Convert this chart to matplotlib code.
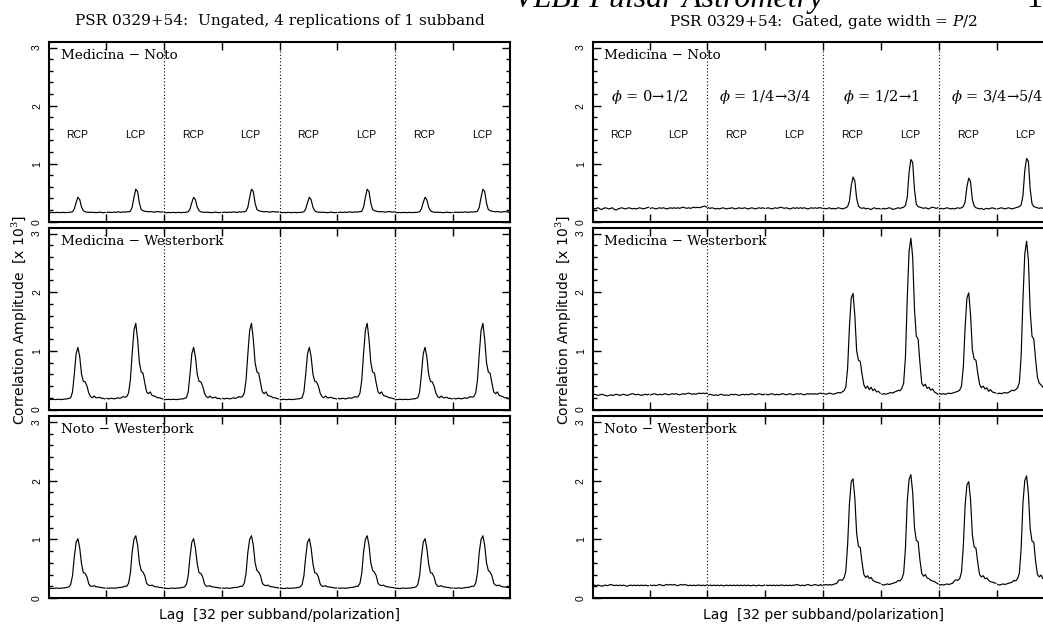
import numpy as np
import matplotlib
matplotlib.use("Agg")
import matplotlib.pyplot as plt
from matplotlib.ticker import MultipleLocator, FixedLocator

plt.rcParams["mathtext.fontset"] = "dejavuserif"

# ---------------- data ----------------
SEG = 32                       # lags per subband/polarization
seg_labels = ["RCP", "LCP"] * 4
baselines = ["Medicina − Noto", "Medicina − Westerbork", "Noto − Westerbork"]
phase_labels = [r"$\phi$ = 0→1/2", r"$\phi$ = 1/4→3/4", r"$\phi$ = 1/2→1", r"$\phi$ = 3/4→5/4"]
yticks_major = [0, 1, 2, 3]

# Ungated: one subband (RCP, LCP), replicated 4 times  [x 10^3]
ug_mn_rcp = [0.16,0.155,0.16,0.155,0.16,0.16,0.155,0.16,0.16,0.155,0.16,0.16,0.165,0.17,0.22,0.33,
             0.42,0.38,0.25,0.19,0.17,0.165,0.16,0.165,0.16,0.16,0.155,0.16,0.165,0.16,0.155,0.16]
ug_mn_lcp = [0.16,0.165,0.16,0.16,0.165,0.16,0.17,0.165,0.16,0.17,0.165,0.17,0.17,0.18,0.25,0.42,
             0.56,0.52,0.32,0.21,0.19,0.18,0.175,0.17,0.175,0.17,0.165,0.17,0.175,0.17,0.165,0.17]
ug_mw_rcp = [0.17,0.17,0.175,0.17,0.17,0.175,0.17,0.17,0.175,0.18,0.18,0.19,0.20,0.30,0.60,0.95,
             1.06,0.90,0.60,0.48,0.47,0.40,0.28,0.22,0.20,0.23,0.20,0.20,0.21,0.19,0.19,0.18]
ug_mw_lcp = [0.19,0.18,0.19,0.19,0.18,0.19,0.20,0.19,0.20,0.22,0.21,0.22,0.28,0.50,0.95,1.35,
             1.47,1.20,0.80,0.64,0.62,0.45,0.30,0.27,0.30,0.24,0.23,0.22,0.20,0.20,0.19,0.18]
ug_nw_rcp = [0.165,0.165,0.16,0.165,0.17,0.165,0.165,0.17,0.17,0.175,0.18,0.19,0.23,0.38,0.70,0.95,
             1.01,0.85,0.58,0.43,0.42,0.36,0.24,0.20,0.20,0.21,0.19,0.19,0.18,0.18,0.17,0.17]
ug_nw_lcp = [0.17,0.165,0.17,0.17,0.165,0.17,0.175,0.18,0.18,0.19,0.20,0.20,0.25,0.42,0.78,1.00,
             1.06,0.90,0.60,0.47,0.44,0.38,0.25,0.22,0.21,0.22,0.20,0.19,0.19,0.18,0.18,0.17]

# Gated (gate width P/2): 8 segments per baseline  [x 10^3]
g_mn = [
 [0.23,0.22,0.23,0.24,0.22,0.21,0.23,0.24,0.23,0.22,0.23,0.24,0.21,0.20,0.22,0.23,0.24,0.23,0.22,0.23,0.24,0.23,0.22,0.23,0.22,0.23,0.24,0.23,0.22,0.23,0.24,0.25],
 [0.23,0.24,0.23,0.22,0.23,0.24,0.23,0.24,0.23,0.22,0.23,0.24,0.23,0.24,0.23,0.24,0.23,0.24,0.25,0.24,0.23,0.24,0.23,0.24,0.25,0.24,0.25,0.24,0.25,0.26,0.27,0.25],
 [0.24,0.23,0.24,0.23,0.22,0.23,0.22,0.23,0.24,0.23,0.22,0.23,0.23,0.24,0.23,0.22,0.23,0.24,0.23,0.23,0.24,0.23,0.22,0.23,0.24,0.23,0.22,0.23,0.24,0.23,0.24,0.23],
 [0.23,0.24,0.23,0.22,0.23,0.24,0.23,0.24,0.25,0.24,0.23,0.24,0.23,0.22,0.23,0.24,0.23,0.24,0.23,0.24,0.23,0.24,0.23,0.22,0.23,0.24,0.23,0.24,0.23,0.24,0.24,0.23],
 [0.23,0.22,0.23,0.24,0.22,0.23,0.22,0.23,0.24,0.23,0.22,0.23,0.24,0.26,0.35,0.62,0.77,0.70,0.40,0.27,0.24,0.23,0.24,0.22,0.23,0.22,0.21,0.23,0.24,0.22,0.23,0.22],
 [0.22,0.23,0.22,0.23,0.24,0.23,0.21,0.22,0.23,0.24,0.23,0.24,0.25,0.28,0.42,0.85,1.07,1.02,0.55,0.30,0.26,0.25,0.24,0.23,0.24,0.23,0.22,0.24,0.25,0.24,0.23,0.24],
 [0.22,0.23,0.22,0.23,0.24,0.23,0.22,0.23,0.22,0.23,0.24,0.23,0.24,0.26,0.34,0.60,0.75,0.69,0.38,0.27,0.24,0.23,0.22,0.23,0.21,0.22,0.23,0.22,0.23,0.24,0.23,0.22],
 [0.22,0.23,0.24,0.23,0.22,0.23,0.24,0.23,0.22,0.23,0.24,0.25,0.26,0.29,0.45,0.88,1.09,1.04,0.56,0.31,0.26,0.25,0.24,0.23,0.24,0.23,0.24,0.23,0.24,0.23,0.24,0.23],
]
g_mw = [
 [0.25,0.26,0.25,0.24,0.25,0.26,0.25,0.24,0.23,0.24,0.25,0.24,0.25,0.26,0.25,0.24,0.25,0.26,0.25,0.24,0.25,0.26,0.27,0.26,0.25,0.26,0.25,0.24,0.25,0.26,0.25,0.26],
 [0.25,0.26,0.27,0.26,0.25,0.26,0.25,0.26,0.27,0.26,0.25,0.26,0.27,0.26,0.27,0.26,0.25,0.26,0.27,0.26,0.27,0.28,0.27,0.26,0.27,0.26,0.27,0.28,0.27,0.28,0.27,0.28],
 [0.25,0.26,0.25,0.24,0.25,0.24,0.25,0.26,0.25,0.24,0.25,0.24,0.25,0.26,0.25,0.26,0.25,0.24,0.25,0.26,0.25,0.26,0.25,0.26,0.27,0.26,0.25,0.26,0.27,0.26,0.25,0.26],
 [0.26,0.25,0.26,0.27,0.26,0.25,0.26,0.25,0.26,0.27,0.26,0.25,0.26,0.27,0.26,0.25,0.26,0.27,0.26,0.27,0.26,0.25,0.26,0.27,0.26,0.27,0.26,0.27,0.26,0.27,0.28,0.27],
 [0.27,0.26,0.27,0.28,0.27,0.26,0.27,0.28,0.29,0.28,0.30,0.32,0.38,0.70,1.40,1.90,1.98,1.60,1.00,0.84,0.82,0.60,0.42,0.36,0.40,0.34,0.38,0.32,0.35,0.30,0.31,0.28],
 [0.26,0.27,0.26,0.27,0.28,0.29,0.28,0.30,0.31,0.33,0.32,0.36,0.45,0.90,1.90,2.70,2.92,2.60,1.70,1.25,1.20,0.80,0.45,0.40,0.43,0.36,0.38,0.33,0.35,0.30,0.28,0.26],
 [0.27,0.26,0.27,0.26,0.27,0.28,0.27,0.28,0.29,0.30,0.31,0.33,0.40,0.72,1.40,1.90,1.99,1.62,1.02,0.86,0.84,0.62,0.43,0.37,0.40,0.35,0.37,0.31,0.34,0.30,0.29,0.28],
 [0.27,0.28,0.27,0.28,0.29,0.28,0.29,0.31,0.33,0.32,0.34,0.37,0.46,0.92,1.88,2.65,2.87,2.55,1.68,1.25,1.20,0.85,0.55,0.45,0.42,0.38,0.36,0.34,0.33,0.31,0.30,0.29],
]
g_nw = [
 [0.21,0.22,0.21,0.22,0.21,0.20,0.21,0.22,0.21,0.22,0.23,0.22,0.21,0.22,0.21,0.22,0.21,0.22,0.21,0.20,0.21,0.22,0.21,0.22,0.21,0.22,0.21,0.22,0.21,0.22,0.21,0.21],
 [0.22,0.21,0.22,0.21,0.22,0.23,0.22,0.21,0.22,0.23,0.22,0.23,0.22,0.23,0.22,0.21,0.22,0.23,0.22,0.23,0.22,0.21,0.22,0.21,0.22,0.21,0.22,0.22,0.21,0.22,0.21,0.22],
 [0.21,0.22,0.21,0.22,0.21,0.22,0.21,0.22,0.21,0.21,0.22,0.21,0.22,0.21,0.22,0.21,0.22,0.21,0.22,0.21,0.22,0.21,0.22,0.21,0.21,0.22,0.21,0.21,0.22,0.21,0.21,0.22],
 [0.22,0.21,0.22,0.21,0.22,0.21,0.22,0.21,0.22,0.22,0.21,0.22,0.21,0.22,0.21,0.22,0.22,0.23,0.22,0.21,0.22,0.21,0.22,0.23,0.22,0.21,0.22,0.23,0.22,0.21,0.23,0.21],
 [0.22,0.23,0.22,0.23,0.22,0.23,0.24,0.25,0.30,0.31,0.30,0.34,0.45,0.90,1.60,1.98,2.03,1.70,1.10,0.88,0.86,0.60,0.40,0.35,0.38,0.33,0.35,0.30,0.28,0.27,0.26,0.25],
 [0.23,0.22,0.23,0.24,0.23,0.24,0.25,0.26,0.27,0.30,0.29,0.33,0.42,0.85,1.65,2.02,2.10,1.80,1.20,0.98,0.96,0.65,0.42,0.37,0.40,0.34,0.33,0.30,0.29,0.28,0.26,0.24],
 [0.22,0.23,0.22,0.23,0.24,0.23,0.24,0.25,0.29,0.31,0.30,0.33,0.44,0.88,1.58,1.93,1.98,1.68,1.08,0.87,0.85,0.60,0.40,0.36,0.38,0.33,0.34,0.30,0.28,0.27,0.26,0.25],
 [0.23,0.22,0.23,0.24,0.23,0.24,0.25,0.26,0.27,0.30,0.29,0.33,0.42,0.85,1.62,2.00,2.08,1.78,1.18,0.97,0.95,0.62,0.40,0.36,0.39,0.33,0.32,0.30,0.29,0.28,0.26,0.24],
]

ungated = [[ug_mn_rcp, ug_mn_lcp], [ug_mw_rcp, ug_mw_lcp], [ug_nw_rcp, ug_nw_lcp]]
gated = [g_mn, g_mw, g_nw]

# ---------------- layout ----------------
W, H = 1043, 632
fig = plt.figure(figsize=(W / 100, H / 100), dpi=100)

col_left = [49, 592.7]
col_w = 461
rows = [(41.7, 221.7), (227.7, 409.5), (416.0, 598.0)]

SERIF = "DejaVu Serif"
SANS = "DejaVu Sans"
HELV = "Liberation Sans"


def make_ax(xl, top, bot):
    return fig.add_axes([xl / W, 1 - bot / H, col_w / W, (bot - top) / H])


def style_ax(ax):
    ax.set_xlim(1, 256)
    ax.set_ylim(0, 3.1)
    ax.xaxis.set_major_locator(FixedLocator([32.5 + 32 * k for k in range(8)]))
    ax.yaxis.set_major_locator(FixedLocator(yticks_major))
    ax.yaxis.set_minor_locator(MultipleLocator(0.2))
    ax.tick_params(axis="both", which="both", direction="in", top=True, right=True,
                   labelbottom=False, width=1.0)
    ax.tick_params(axis="x", which="major", length=6)
    ax.tick_params(axis="y", which="major", length=6, labelsize=7.5, pad=5)
    ax.tick_params(axis="y", which="minor", length=3)
    for lab in ax.get_yticklabels():
        lab.set_rotation(90)
        lab.set_va("center")
        lab.set_family(HELV)
    for s in ax.spines.values():
        s.set_linewidth(1.5)
    for xv in (64.5, 128.5, 192.5):
        ax.axvline(xv, color="k", lw=0.8, ls=(0, (1, 2)))


for c, xl in enumerate(col_left):
    for r, (top, bot) in enumerate(rows):
        ax = make_ax(xl, top, bot)
        style_ax(ax)
        for k in range(8):
            x = np.arange(1, SEG + 1) + SEG * k
            if c == 0:
                y = ungated[r][k % 2]
            else:
                y = gated[r][k]
            ax.plot(x, y, color="k", lw=0.85)
        ax.text(0.025, 0.925, baselines[r], transform=ax.transAxes, va="center",
                ha="left", family=SERIF, fontsize=9.7)
        if r == 0:
            for k in range(8):
                ax.text(16.5 + SEG * k, 1.5, seg_labels[k], ha="center", va="center",
                        family=HELV, fontsize=7.5)
            if c == 1:
                for b in range(4):
                    ax.text(32.5 + 64 * b, 2.15, phase_labels[b], ha="center", va="center",
                            family=SERIF, fontsize=10.5)
    xc = (xl + col_w / 2) / W
    fig.text(xc, 1 - 615 / H, "Lag  [32 per subband/polarization]", ha="center",
             va="center", family=SANS, fontsize=10)
    fig.text((xl - 29) / W, 1 - 320 / H, r"Correlation Amplitude  [x 10$^3$]",
             rotation=90, ha="center", va="center", family=SANS, fontsize=10)

fig.text((49 + col_w / 2) / W, 1 - 21.5 / H,
         "PSR 0329+54:  Ungated, 4 replications of 1 subband",
         ha="center", va="center", family=SERIF, fontsize=11)
fig.text((592.7 + col_w / 2) / W, 1 - 22 / H,
         "PSR 0329+54:  Gated, gate width = $P/2$",
         ha="center", va="center", family=SERIF, fontsize=11)

# page header (cut off at the top of the page crop)
fig.text(823 / W, 1 - 7 / H, "VLBI Pulsar Astrometry", ha="right", va="baseline",
         family="Liberation Serif", style="italic", fontsize=23)
fig.text(1026 / W, 1 - 7 / H, "11", ha="left", va="baseline",
         family="Liberation Serif", fontsize=23)

fig.savefig("out.png", dpi=100)
